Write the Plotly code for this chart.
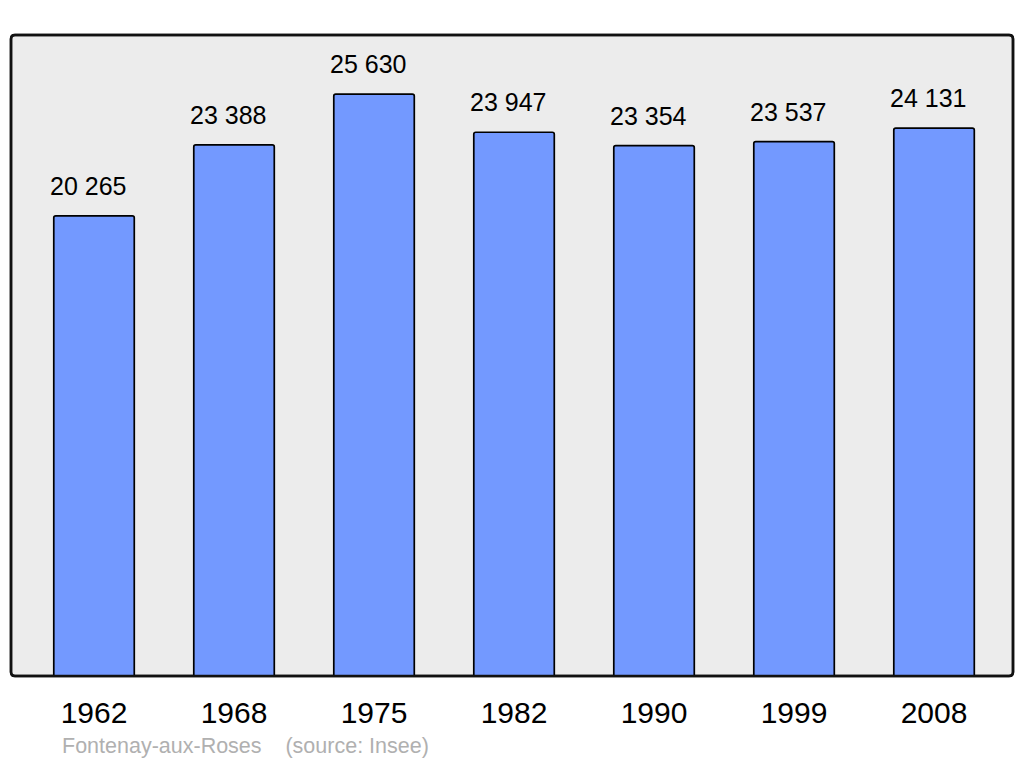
import plotly.graph_objects as go

years = ["1962", "1968", "1975", "1982", "1990", "1999", "2008"]
population = [20265, 23388, 25630, 23947, 23354, 23537, 24131]
value_labels = ["20 265", "23 388", "25 630", "23 947", "23 354", "23 537", "24 131"]
footer_text = "Fontenay-aux-Roses&nbsp;&nbsp;&nbsp;&nbsp;(source: Insee)"

W, H = 1024, 765
OFF = 8  # page offset of the rendered figure
L, R, T, B = 11 - OFF, 11 + OFF, 35 - OFF, 89 + OFF

fig = go.Figure()
fig.add_trace(go.Bar(
    x=list(range(len(years))), y=population,
    width=0.575,
    marker=dict(color="#7399ff", line=dict(color="#000000", width=1.7), cornerradius=2),
    hoverinfo="skip",
))

for i, (v, lab) in enumerate(zip(population, value_labels)):
    fig.add_annotation(x=i, y=v, text=lab, showarrow=False, yanchor="bottom",
                       xshift=-6, yshift=14,
                       font=dict(family="Liberation Sans, Arial", size=25, color="#000"))

fig.add_annotation(xref="paper", yref="paper", x=(60 - 11) / 1002, y=(676 - 746) / (676 - 35),
                   xanchor="left", yanchor="middle", text=footer_text, showarrow=False,
                   font=dict(family="Liberation Sans, Arial", size=21.5, color="#b0b0b0"))

# rounded background box
pw, ph = W - L - R, H - T - B
rx, ry = 4 / pw, 4 / ph
path = (f"M {rx},0 L {1-rx},0 Q 1,0 1,{ry} L 1,{1-ry} Q 1,1 {1-rx},1 "
        f"L {rx},1 Q 0,1 0,{1-ry} L 0,{ry} Q 0,0 {rx},0 Z")
fig.add_shape(type="path", xref="paper", yref="paper", path=path,
              fillcolor="#ececec", line=dict(color="#111111", width=2.5), layer="below")
fig.add_shape(type="path", xref="paper", yref="paper", path=path,
              fillcolor="rgba(0,0,0,0)", line=dict(color="#111111", width=2.5), layer="above")

fig.update_layout(
    width=W, height=H,
    margin=dict(l=L, r=R, t=T, b=B),
    paper_bgcolor="#ffffff", plot_bgcolor="rgba(0,0,0,0)",
    showlegend=False,
    xaxis=dict(range=[-0.593, 6.564], tickvals=list(range(len(years))), ticktext=years,
               showgrid=False, zeroline=False, showline=False,
               ticks="outside", ticklen=10, tickcolor="rgba(0,0,0,0)",
               tickfont=dict(family="Liberation Sans, Arial", size=30, color="#000")),
    yaxis=dict(range=[0, 28230], showgrid=False, zeroline=False, showline=False,
               showticklabels=False, ticks=""),
)

fig.write_html("out.html")
